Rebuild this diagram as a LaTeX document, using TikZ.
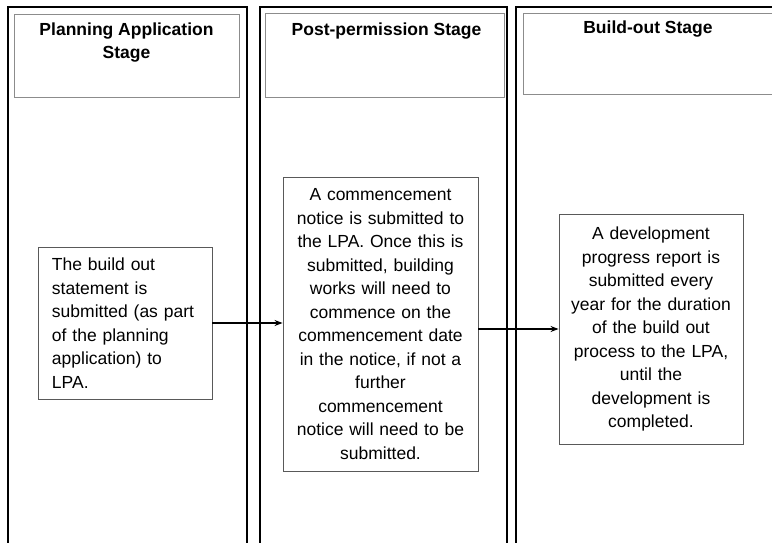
\documentclass[tikz,border=0pt]{standalone}
\usepackage{fontspec}
\setmainfont{Liberation Sans}
\usetikzlibrary{arrows.meta}
\newcommand\stagefont{\fontsize{17.5}{23.5}\selectfont}

\begin{document}
\begin{tikzpicture}[x=1pt, y=-1pt,
  colframe/.style={line width=1.8pt, black},
  headbox/.style={draw=black!45, line width=0.9pt, inner sep=0pt},
  stagetitle/.style={font=\stagefont\bfseries, align=center, inner sep=0pt, anchor=north},
  stagebox/.style={draw=black!65, line width=0.9pt, inner ysep=0pt, font=\stagefont},
  flow/.style={-{Stealth[length=8pt,width=6pt]}, line width=1.1pt, black}]
  \useasboundingbox (0,0) rectangle (772,543);
  % column frames
  \draw[colframe] (8,545) -- (8,7) -- (247,7) -- (247,545);
  \draw[colframe] (260,545) -- (260,7) -- (507,7) -- (507,545);
  \draw[colframe] (516,545) -- (516,7) -- (780,7);
  % headers
  \node[headbox, minimum width=225, minimum height=83] (h1) at (126.5,55.5) {};
  \node[headbox, minimum width=239, minimum height=84] (h2) at (384.5,55) {};
  \node[headbox, minimum width=250, minimum height=81] (h3) at (648,53.5) {};
  \node[stagetitle] (t1) at ([yshift=-9pt]h1.north) {Planning Application\\Stage};
  \node[stagetitle] (t2) at ([yshift=-10pt,xshift=2pt]h2.north) {Post-permission Stage};
  \node[stagetitle] (t3) at ([yshift=-8pt]h3.north) {Build-out Stage};
  % stage boxes
  \node[stagebox, align=left, inner xsep=14pt, text width=146, minimum height=152] (b1) at (125,323)
    {The build out\\statement is\\submitted (as part\\of the planning\\application) to\\LPA.};
  \node[stagebox, align=center, inner xsep=6pt, text width=183, minimum height=294] (b2) at (380.5,324)
    {A commencement\\notice is submitted to\\the LPA. Once this is\\submitted, building\\works will need to\\commence on the\\commencement date\\in the notice, if not a\\further\\commencement\\notice will need to be\\submitted.};
  \node[stagebox, align=center, inner xsep=6pt, text width=172, minimum height=230] (b3) at (651,329)
    {A development\\progress report is\\submitted every\\year for the duration\\of the build out\\process to the LPA,\\until the\\development is\\completed.};
  % arrows
  \draw[flow] (b1.east) -- (b1.east -| b2.west);
  \draw[flow] (b3.west -| b2.east) -- (b3.west);
\end{tikzpicture}
\end{document}
